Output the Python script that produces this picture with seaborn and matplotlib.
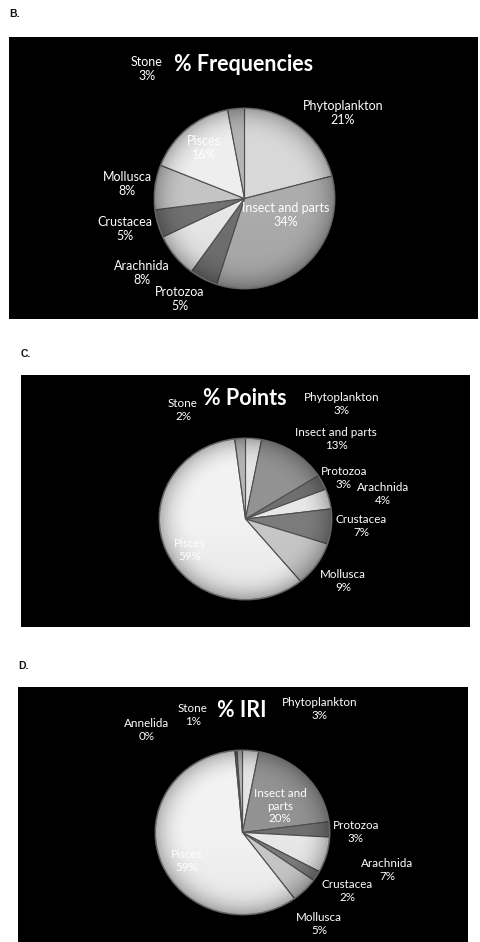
import numpy as np
import matplotlib
matplotlib.use("Agg")
import matplotlib.pyplot as plt
from matplotlib.patches import Circle
import seaborn as sns

sns.set_style("white")
plt.rcParams["font.family"] = ["Lato", "DejaVu Sans"]

W, H = 480, 942

# ---- diet composition data ----
freq_categories = ["Phytoplankton", "Insect and parts", "Protozoa", "Arachnida",
                   "Crustacea", "Mollusca", "Pisces", "Stone"]
freq_values = [21, 34, 5, 8, 5, 8, 16, 3]

points_categories = ["Phytoplankton", "Insect and parts", "Protozoa", "Arachnida",
                     "Crustacea", "Mollusca", "Pisces", "Stone"]
points_values = [3, 13, 3, 4, 7, 9, 59, 2]

iri_categories = ["Phytoplankton", "Insect and parts", "Protozoa", "Arachnida",
                  "Crustacea", "Mollusca", "Pisces", "Annelida", "Stone"]
iri_values = [3, 20, 3, 7, 2, 5, 59, 0.4, 1]

# ---- styling ----
gray_b = {"Phytoplankton": "#d8d8d8", "Insect and parts": "#acacac", "Protozoa": "#707070",
          "Arachnida": "#e8e8e8", "Crustacea": "#727272", "Mollusca": "#c4c4c4",
          "Pisces": "#eeeeee", "Stone": "#b4b4b4", "Annelida": "#5c5c5c"}
gray_cd = dict(gray_b, **{"Phytoplankton": "#e4e4e4", "Insect and parts": "#929292",
                          "Crustacea": "#7c7c7c", "Mollusca": "#c8c8c8", "Pisces": "#f2f2f2"})

# panel layout in figure pixels
panels = [
    dict(letter="B.", letter_xy=(9, 14), box=(9, 37, 478, 319),
         title="% Frequencies", title_xy=(244, 71), title_size=15.5,
         pie=(244.5, 198.5, 90.5, 90.5), cats=freq_categories, vals=freq_values,
         colors=gray_b, label_size=9.0,
         labels={"Stone": (147, 69), "Phytoplankton": (343, 113), "Pisces": (204, 148),
                 "Mollusca": (127, 184), "Insect and parts": (286, 215),
                 "Crustacea": (125, 229), "Arachnida": (142, 273), "Protozoa": (180, 299)}),
    dict(letter="C.", letter_xy=(21, 354), box=(21, 375, 470, 627),
         title="% Points", title_xy=(245, 405), title_size=15.5,
         pie=(245.5, 519, 86.5, 81), cats=points_categories, vals=points_values,
         colors=gray_cd, label_size=8.4,
         labels={"Stone": (183, 410), "Phytoplankton": (342, 404),
                 "Insect and parts": (336, 439), "Protozoa": (344, 478),
                 "Arachnida": (383, 494), "Crustacea": (361, 526),
                 "Mollusca": (343, 581), "Pisces": (190, 550)}),
    dict(letter="D.", letter_xy=(18, 666), box=(18, 687, 468, 950),
         title="% IRI", title_xy=(242, 717), title_size=15.5,
         pie=(242.5, 832.5, 87.5, 82.5), cats=iri_categories, vals=iri_values,
         colors=gray_cd, label_size=8.4,
         labels={"Annelida": (147, 730), "Stone": (193, 715), "Phytoplankton": (320, 709),
                 "Insect and parts": (280, 806), "Protozoa": (356, 832),
                 "Arachnida": (387, 870), "Crustacea": (347, 891), "Mollusca": (319, 924),
                 "Pisces": (187, 861)}),
]

fig = plt.figure(figsize=(W / 100, H / 100), dpi=100, facecolor="white")


def fig_rect(x0, y0, x1, y1):
    return [x0 / W, 1 - y1 / H, (x1 - x0) / W, (y1 - y0) / H]


def pixel_axes(x0, y0, x1, y1, z):
    ax = fig.add_axes(fig_rect(x0, y0, x1, y1), zorder=z)
    ax.set_xlim(x0, x1)
    ax.set_ylim(y1, y0)
    ax.set_xticks([])
    ax.set_yticks([])
    for s in ax.spines.values():
        s.set_visible(False)
    return ax


for p in panels:
    # panel letter
    fig.text(p["letter_xy"][0] / W, 1 - p["letter_xy"][1] / H, p["letter"],
             family="Liberation Sans", weight="bold", fontsize=7.5, color="#111111",
             ha="left", va="center")

    # black chart area (pixel coordinates, y down)
    x0, y0, x1, y1 = p["box"]
    bg = pixel_axes(x0, y0, x1, y1, 0)
    bg.set_facecolor("black")

    # pie
    cx, cy, rx, ry = p["pie"]
    pa = fig.add_axes(fig_rect(cx - rx, cy - ry, cx + rx, cy + ry), zorder=1)
    cols = [p["colors"][c] for c in p["cats"]]
    wedges, _ = pa.pie(p["vals"], colors=cols, startangle=90, counterclock=False,
                       radius=1, wedgeprops=dict(edgecolor="#505050", linewidth=0.8))
    pa.set_aspect("auto")
    pa.axis("off")

    # soft shading towards the rim
    gx, gy = np.meshgrid(np.linspace(-1, 1, 300), np.linspace(1, -1, 300))
    rr = np.sqrt(gx ** 2 + gy ** 2)
    alpha = np.clip((rr - 0.6) / 0.4, 0, 1) ** 2.5 * 0.28 + np.clip(-gy, 0, 1) * 0.05
    shade = np.zeros((300, 300, 4))
    shade[..., 3] = np.clip(alpha, 0, 1)
    im = pa.imshow(shade, extent=(-1, 1, -1, 1), aspect="auto", zorder=3,
                   interpolation="bilinear")
    im.set_clip_path(Circle((0, 0), 1.0, transform=pa.transData))
    pa.add_patch(Circle((0, 0), 0.995, fill=False, edgecolor="#6a6a6a",
                        linewidth=0.8, zorder=4))
    pa.set_xlim(-1.0, 1.0)
    pa.set_ylim(-1.0, 1.0)

    # transparent overlay for title and labels
    top = pixel_axes(x0, y0, x1, y1, 2)
    top.patch.set_alpha(0)
    top.text(p["title_xy"][0], p["title_xy"][1], p["title"], color="white",
             fontsize=p["title_size"], weight="bold", ha="center", va="baseline")

    for cat, val in zip(p["cats"], p["vals"]):
        lx, ly = p["labels"][cat]
        name = "Insect and\nparts" if (p["title"] == "% IRI" and cat == "Insect and parts") else cat
        top.text(lx, ly, f"{name}\n{val:.0f}%", color="white", fontsize=p["label_size"],
                 ha="center", va="center", linespacing=1.15)

fig.savefig("out.png", dpi=100, facecolor="white")
